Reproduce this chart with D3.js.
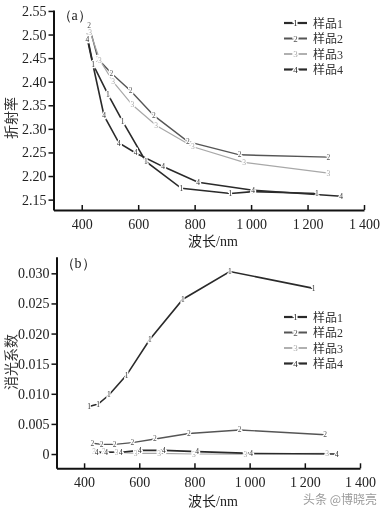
<!DOCTYPE html>
<html><head><meta charset="utf-8">
<script src="https://cdn.jsdelivr.net/npm/d3@7/dist/d3.min.js"></script>
<style>
body{margin:0;background:#fff;}
svg{will-change:transform;}
svg text{font-family:"Liberation Serif","DejaVu Serif",serif;}
</style></head>
<body><svg id="c" width="382" height="512"></svg>
<script>
// ---- Data ----
const seriesNames = ["样品1","样品2","样品3","样品4"];
const seriesMarks = ["1","2","3","4"];
const seriesColors = ["#2a2a2a","#555555","#a8a8a8","#2a2a2a"];
const seriesWidths = [1.6,1.4,1.2,1.6];

// (a) refractive index
const wlA1 = [420, 440, 493, 545, 627, 753, 927, 1007, 1233];
const nA1  = [2.495, 2.437, 2.373, 2.316, 2.231, 2.174, 2.163, 2.167, 2.163];
const wlA2 = [426, 458, 505, 573, 656, 776, 959, 1274];
const nA2  = [2.519, 2.448, 2.418, 2.381, 2.328, 2.273, 2.245, 2.240];
const wlA3 = [430, 464, 511, 579, 664, 794, 975, 1274];
const nA3  = [2.505, 2.446, 2.400, 2.351, 2.307, 2.262, 2.229, 2.206];
const wlA4 = [420, 479, 532, 591, 688, 812, 1007, 1319];
const nA4  = [2.490, 2.328, 2.270, 2.249, 2.220, 2.187, 2.170, 2.157];

// (b) extinction coefficient
const wlB1 = [418, 451, 490, 554, 638, 758, 928, 1232];
const kB1  = [0.0079, 0.0083, 0.0098, 0.0131, 0.0190, 0.0257, 0.0303, 0.0275];
const wlB2 = [430, 464, 511, 575, 657, 780, 964, 1274];
const kB2  = [0.0018, 0.0016, 0.0016, 0.0019, 0.0025, 0.0034, 0.0040, 0.0032];
const wlB3 = [436, 472, 518, 587, 672, 798, 985, 1281];
const kB3  = [0.0004, 0.0004, 0.0003, 0.0001, 0.0001, 0.0000, 0.0000, 0.0001];
const wlB4 = [445, 480, 533, 602, 689, 810, 1005, 1316];
const kB4  = [0.0002, 0.0003, 0.0003, 0.0006, 0.0006, 0.0004, 0.0001, 0.0000];

const xTicks = [400, 600, 800, 1000, 1200, 1400];
const yTicksA = [2.15, 2.20, 2.25, 2.30, 2.35, 2.40, 2.45, 2.50, 2.55];
const yTicksB = [0, 0.005, 0.010, 0.015, 0.020, 0.025, 0.030];

const svg = d3.select("#c");
const fmtX = d => d >= 1000 ? Math.floor(d/1000) + "\u2009" + String(d%1000).padStart(3,"0") : String(d);

function panel(cfg){
  const x = d3.scaleLinear().domain([300,1400]).range(cfg.xr);
  const y = d3.scaleLinear().domain(cfg.yd).range(cfg.yr);
  const g = svg.append("g");
  // axes
  const xa = g.append("g").attr("transform",`translate(0,${cfg.yr[0]})`)
    .call(d3.axisBottom(x).tickValues(xTicks).tickSizeInner(-5).tickSizeOuter(0).tickPadding(9).tickFormat(fmtX));
  const ya = g.append("g").attr("transform",`translate(${cfg.xr[0]},0)`)
    .call(d3.axisLeft(y).tickValues(cfg.yTicks).tickSizeInner(5).tickSizeOuter(0).tickPadding(2).tickFormat(cfg.yFmt));
  [xa,ya].forEach(a=>{
    a.select(".domain").attr("stroke","#111").attr("stroke-width",2);
    a.selectAll(".tick line").attr("stroke","#111").attr("stroke-width",1.5);
    a.selectAll(".tick text").attr("fill","#222").style("font-size","14px");
  });
  // series
  cfg.series.forEach((s,i)=>{
    const pts = s.wl.map((w,j)=>[w,s.v[j]]);
    g.append("path").datum(pts)
      .attr("fill","none").attr("stroke",seriesColors[i]).attr("stroke-width",seriesWidths[i])
      .attr("d", d3.line().x(d=>x(d[0])).y(d=>y(d[1])));
  });
  cfg.series.forEach((s,i)=>{
    g.selectAll(null).data(s.wl.map((w,j)=>[w,s.v[j]])).enter().append("text")
      .attr("x",d=>x(d[0])).attr("y",d=>y(d[1])+2.5)
      .attr("text-anchor","middle").style("font-size","7.5px")
      .attr("fill",seriesColors[i]).attr("stroke","#fff").attr("stroke-width",2.5)
      .attr("paint-order","stroke")
      .text(seriesMarks[i]);
  });
  // panel label
  g.append("text").attr("x",cfg.xr[0]+4).attr("y",cfg.labelY).style("font-size","14px").attr("fill","#222").text(cfg.label);
  // x title
  g.append("text").attr("x",213).attr("y",cfg.xTitleY).attr("text-anchor","middle")
    .style("font-size","14px").attr("fill","#222")
    .html('<tspan style="font-family:\'Noto Sans CJK SC\'">波长</tspan>/nm');
  // y title
  g.append("text").attr("transform",`translate(10,${cfg.yTitleY}) rotate(-90)`)
    .attr("text-anchor","middle").attr("dominant-baseline","central")
    .style("font-family","'Noto Sans CJK SC'").style("font-size","14px")
    .attr("fill","#333").text(cfg.yTitle);
  // legend
  seriesNames.forEach((nm,i)=>{
    const ly = cfg.legY + i*15.5;
    g.append("line").attr("x1",284).attr("x2",307).attr("y1",ly).attr("y2",ly)
      .attr("stroke",seriesColors[i]).attr("stroke-width",seriesWidths[i]+0.6);
    g.append("text").attr("x",295.5).attr("y",ly+3).attr("text-anchor","middle").style("font-size","9px")
      .attr("fill",seriesColors[i]).attr("stroke","#fff").attr("stroke-width",3).attr("paint-order","stroke")
      .text(seriesMarks[i]);
    g.append("text").attr("x",313).attr("y",ly+4.5).style("font-size","12px").attr("fill","#333")
      .html(`<tspan style="font-family:'Noto Sans CJK SC'">样品</tspan>${seriesMarks[i]}`);
  });
}

panel({
  xr:[53.5,364], yd:[2.128,2.552], yr:[210,10], yTicks:yTicksA, yFmt:d3.format(".2f"),
  label:"（a）", labelY:20, xTitleY:246, yTitleY:118, yTitle:"折射率", legY:23,
  series:[{wl:wlA1,v:nA1},{wl:wlA2,v:nA2},{wl:wlA3,v:nA3},{wl:wlA4,v:nA4}]
});
panel({
  xr:[56.5,360], yd:[-0.00237,0.03276], yr:[468.3,256.7], yTicks:yTicksB, yFmt:d=>d===0?"0":d3.format(".3f")(d),
  label:"（b）", labelY:268, xTitleY:506, yTitleY:362, yTitle:"消光系数", legY:317,
  series:[{wl:wlB1,v:kB1},{wl:wlB2,v:kB2},{wl:wlB3,v:kB3},{wl:wlB4,v:kB4}]
});

// watermark
svg.append("text").attr("x",303).attr("y",504).style("font-family","'Noto Sans CJK SC'")
  .style("font-size","12px").attr("fill","#9a9a9a").text("头条 @博晓亮");
</script></body></html>
